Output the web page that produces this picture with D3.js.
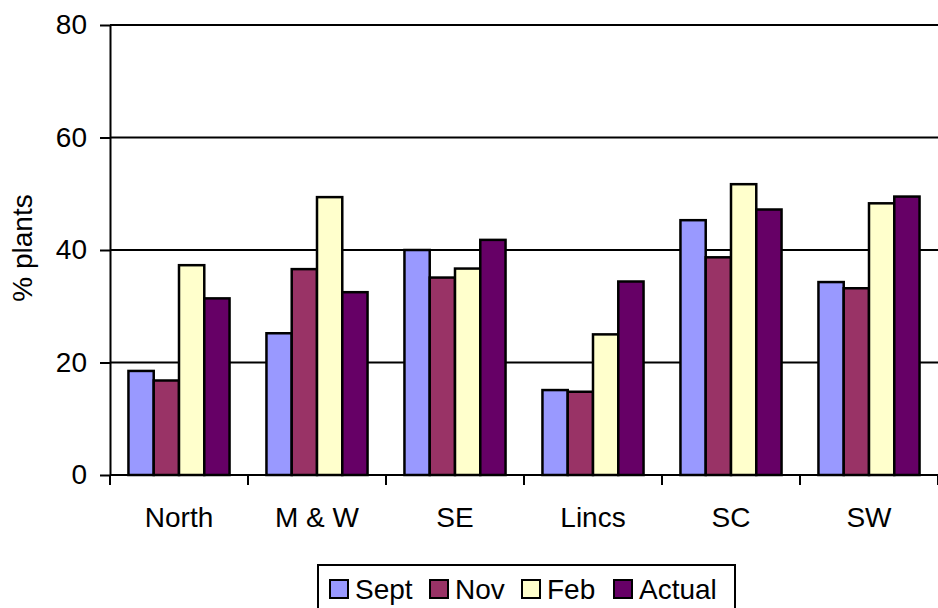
<!DOCTYPE html>
<html>
<head>
<meta charset="utf-8">
<script src="https://cdn.jsdelivr.net/npm/d3@7"></script>
<style>
body { margin: 0; background: #fff; }
text { font-family: "Liberation Sans", Arial, sans-serif; fill: #000; }
</style>
</head>
<body>
<svg width="938" height="608"></svg>
<script>
var regions = ["North", "M & W", "SE", "Lincs", "SC", "SW"];
var seriesNames = ["Sept", "Nov", "Feb", "Actual"];
var sept = [18.5, 25.2, 40.0, 15.1, 45.3, 34.3];
var nov = [16.8, 36.6, 35.1, 14.8, 38.7, 33.2];
var feb = [37.3, 49.4, 36.7, 25.0, 51.7, 48.3];
var actual = [31.4, 32.5, 41.8, 34.4, 47.2, 49.5];
var yTicks = [0, 20, 40, 60, 80];

var colors = {
    "Sept": "#9999FF",
    "Nov": "#993366",
    "Feb": "#FFFFCC",
    "Actual": "#660066"
};

var seriesValues = [sept, nov, feb, actual];
var data = regions.map(function(r, i) {
    var o = { region: r };
    seriesNames.forEach(function(s, j) { o[s] = seriesValues[j][i]; });
    return o;
});

var svg = d3.select("svg"),
    plotLeft = 110, plotRight = 938, plotTop = 25, plotBottom = 475;

var x0 = d3.scaleBand()
    .domain(regions)
    .range([plotLeft, plotRight]);

var x1 = d3.scaleBand()
    .domain(seriesNames)
    .range([0, x0.bandwidth()])
    .paddingOuter(0.73)
    .paddingInner(0);

var y = d3.scaleLinear()
    .domain([0, 80])
    .range([plotBottom, plotTop]);

// gridlines
svg.append("g")
    .selectAll("line")
    .data(yTicks.filter(function(d) { return d > 0; }))
    .enter().append("line")
      .attr("x1", plotLeft)
      .attr("x2", plotRight)
      .attr("y1", function(d) { return y(d); })
      .attr("y2", function(d) { return y(d); })
      .attr("stroke", "#000")
      .attr("stroke-width", 2);

// bars
var groups = svg.append("g")
    .selectAll("g")
    .data(data)
    .enter().append("g")
      .attr("transform", function(d) { return "translate(" + x0(d.region) + ",0)"; });

groups.selectAll("rect")
    .data(function(d) { return seriesNames.map(function(s) { return { key: s, value: d[s] }; }); })
    .enter().append("rect")
      .attr("x", function(d) { return x1(d.key); })
      .attr("y", function(d) { return y(d.value); })
      .attr("width", x1.bandwidth())
      .attr("height", function(d) { return y(0) - y(d.value); })
      .attr("fill", function(d) { return colors[d.key]; })
      .attr("stroke", "#000")
      .attr("stroke-width", 2.5);

// y axis
var yAxis = svg.append("g")
    .attr("transform", "translate(" + plotLeft + ",0)")
    .call(d3.axisLeft(y).tickValues(yTicks).tickSize(10).tickSizeOuter(0).tickPadding(13));
yAxis.select(".domain").attr("stroke", "#000").attr("stroke-width", 2);
yAxis.selectAll(".tick line").attr("stroke-width", 2);
yAxis.selectAll("text")
    .attr("font-size", 28)
    .style("font-family", "Liberation Sans, Arial, sans-serif");

// x axis
var xAxis = svg.append("g")
    .attr("transform", "translate(0," + plotBottom + ")");
xAxis.append("line")
    .attr("x1", plotLeft).attr("x2", plotRight)
    .attr("stroke", "#000").attr("stroke-width", 2);
xAxis.selectAll(".xtick")
    .data(regions.concat(["end"]))
    .enter().append("line")
      .attr("class", "xtick")
      .attr("x1", function(d, i) { return plotLeft + i * x0.step(); })
      .attr("x2", function(d, i) { return plotLeft + i * x0.step(); })
      .attr("y1", 0).attr("y2", 10)
      .attr("stroke", "#000").attr("stroke-width", 2);
xAxis.selectAll(".xlabel")
    .data(regions)
    .enter().append("text")
      .attr("class", "xlabel")
      .attr("x", function(d) { return x0(d) + x0.bandwidth() / 2; })
      .attr("y", 52)
      .attr("text-anchor", "middle")
      .attr("font-size", 28)
      .text(function(d) { return d; });

// y title
svg.append("text")
    .attr("transform", "translate(32,248) rotate(-90)")
    .attr("text-anchor", "middle")
    .attr("font-size", 28)
    .text("% plants");

// legend
var legend = svg.append("g");
legend.append("rect")
    .attr("x", 318).attr("y", 565)
    .attr("width", 417).attr("height", 46)
    .attr("fill", "#fff")
    .attr("stroke", "#000").attr("stroke-width", 2);

var legendX = [330, 430, 522, 614];
var items = legend.selectAll(".item")
    .data(seriesNames)
    .enter().append("g")
      .attr("class", "item")
      .attr("transform", function(d, i) { return "translate(" + legendX[i] + ",580)"; });
items.append("rect")
    .attr("width", 18).attr("height", 18)
    .attr("fill", function(d) { return colors[d]; })
    .attr("stroke", "#000").attr("stroke-width", 2);
items.append("text")
    .attr("x", 25).attr("y", 19)
    .attr("font-size", 28)
    .text(function(d) { return d; });
</script>
</body>
</html>
